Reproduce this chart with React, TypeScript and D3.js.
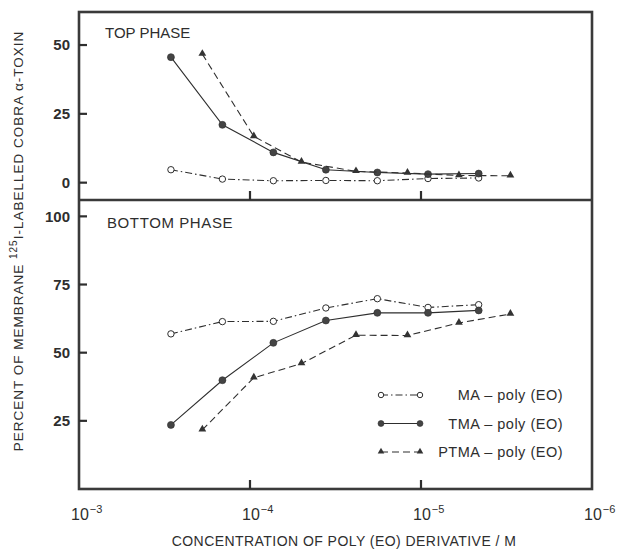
import React from 'react';
import * as d3 from 'd3';

// concentrations (M) – MA and TMA share the same dilution series
const circleConc = [2.9e-4, 1.45e-4, 7.3e-5, 3.6e-5, 1.8e-5, 9.1e-6, 4.6e-6];
const triangleConc = [1.9e-4, 9.5e-5, 5.0e-5, 2.4e-5, 1.2e-5, 6.0e-6, 3.0e-6];

// top phase (%)
const maTop = [4.7, 1.3, 0.7, 0.8, 0.7, 1.5, 1.7];
const tmaTop = [45.6, 21.0, 11.0, 4.7, 3.7, 3.1, 3.3];
const ptmaTop = [46.7, 16.8, 7.5, 4.1, 3.5, 2.6, 2.5];

// bottom phase (%)
const maBottom = [56.9, 61.4, 61.5, 66.4, 69.8, 66.6, 67.6];
const tmaBottom = [23.5, 39.9, 53.6, 61.8, 64.6, 64.6, 65.5];
const ptmaBottom = [21.7, 40.8, 46.0, 56.4, 56.3, 60.9, 64.2];

const xTicks = [1e-3, 1e-4, 1e-5, 1e-6];
const xTickExp = ['-3', '-4', '-5', '-6'];
const topTicks = [0, 25, 50];
const bottomTicks = [25, 50, 75, 100];

const legendLabels = ['MA \u2013 poly (EO)', 'TMA \u2013 poly (EO)', 'PTMA \u2013 poly (EO)'];

const W = 621;
const H = 554;
const INK = '#2e2e2e';
const FONT = '"Liberation Sans", Arial, sans-serif';

const LEFT = 79;
const RIGHT = 592;
const TOP = 12;
const MID = 200;
const BOTTOM = 489;

type Style = 'ma' | 'tma' | 'ptma';

const dashFor = (s: Style) => (s === 'ma' ? '7,3,1.5,3' : s === 'ptma' ? '7,4' : undefined);

const Marker = ({ s, x, y, k = 1 }: { s: Style; x: number; y: number; k?: number }) => {
  if (s === 'ma') return <circle cx={x} cy={y} r={3.2 * k} fill="#fff" stroke={INK} strokeWidth={1} />;
  if (s === 'tma') return <circle cx={x} cy={y} r={3.5 * k} fill="#444" stroke={INK} strokeWidth={0.6} />;
  const tri = d3.symbol().type(d3.symbolTriangle).size(26 * k * k);
  return <path d={tri() || ''} transform={`translate(${x},${y - 0.5})`} fill="#333" />;
};

export default function App() {
  const x = d3.scaleLog().domain([1e-3, 1e-6]).range([LEFT, RIGHT]);
  const yTop = d3.scaleLinear().domain([-6.3, 62]).range([MID, TOP]);
  const yBot = d3.scaleLinear().domain([0, 106]).range([BOTTOM, MID]);

  const series = (conc: number[], vals: number[], y: d3.ScaleLinear<number, number>, s: Style) => {
    const pts = conc.map((c, i) => [x(c), y(vals[i])] as [number, number]);
    const line = d3.line();
    return (
      <g key={s + y.domain()[0]}>
        <path d={line(pts) || ''} fill="none" stroke={INK} strokeWidth={1.1} strokeDasharray={dashFor(s)} />
        {pts.map((p, i) => (
          <Marker key={i} s={s} x={p[0]} y={p[1]} />
        ))}
      </g>
    );
  };

  const legendRows: Style[] = ['ma', 'tma', 'ptma'];
  const legendY = d3.scalePoint<Style>().domain(legendRows).range([395, 452]);

  return (
    <svg
      width={W}
      height={H}
      style={{ position: 'absolute', left: 0, top: 0, background: '#fff' }}
      fontFamily={FONT}
    >
      {/* frame */}
      <rect x={LEFT} y={TOP} width={RIGHT - LEFT} height={BOTTOM - TOP} fill="none" stroke="#3a3a3a" strokeWidth={2.6} />
      <line x1={LEFT} x2={RIGHT} y1={MID} y2={MID} stroke="#3a3a3a" strokeWidth={2.6} />

      {/* y ticks */}
      {topTicks.map((t) => (
        <g key={'tt' + t}>
          <line x1={LEFT} x2={LEFT + 8} y1={yTop(t)} y2={yTop(t)} stroke={INK} strokeWidth={2.2} />
          <text x={70} y={yTop(t)} dy="0.36em" textAnchor="end" fontSize={15} fontWeight="bold" fill={INK}>
            {t}
          </text>
        </g>
      ))}
      {bottomTicks.map((t) => (
        <g key={'bt' + t}>
          <line x1={LEFT} x2={LEFT + 8} y1={yBot(t)} y2={yBot(t)} stroke={INK} strokeWidth={2.2} />
          <text x={70} y={yBot(t)} dy="0.36em" textAnchor="end" fontSize={15} fontWeight="bold" fill={INK}>
            {t}
          </text>
        </g>
      ))}

      {/* x ticks */}
      {xTicks.slice(1, 3).map((t) => (
        <g key={'xt' + t}>
          <line x1={x(t)} x2={x(t)} y1={MID} y2={MID - 9} stroke={INK} strokeWidth={2.2} />
          <line x1={x(t)} x2={x(t)} y1={BOTTOM} y2={BOTTOM - 9} stroke={INK} strokeWidth={2.2} />
        </g>
      ))}
      {xTicks.map((t, i) => (
        <text key={'xl' + t} x={x(t) - 8} y={520} fontSize={16} fill={INK}>
          10
          <tspan fontSize={11} dy={-7} dx={1}>
            {'\u2212' + xTickExp[i].slice(1)}
          </tspan>
        </text>
      ))}

      {/* panel titles */}
      <text x={105} y={38} fontSize={15} fill={INK}>
        TOP PHASE
      </text>
      <text x={107} y={228} fontSize={15} fill={INK} letterSpacing={0.6}>
        BOTTOM PHASE
      </text>

      {/* axis titles */}
      <text x={344} y={546} textAnchor="middle" fontSize={14} fill={INK} letterSpacing={0.45}>
        CONCENTRATION OF POLY (EO) DERIVATIVE / M
      </text>
      <text
        transform="translate(23,241) rotate(-90)"
        textAnchor="middle"
        fontSize={13.5}
        fill={INK}
        letterSpacing={1}
      >
        PERCENT OF MEMBRANE{' '}
        <tspan fontSize={10} dy={-6}>
          125
        </tspan>
        <tspan dy={6}>I-LABELLED COBRA α-TOXIN</tspan>
      </text>

      {/* data */}
      {series(circleConc, maTop, yTop, 'ma')}
      {series(circleConc, tmaTop, yTop, 'tma')}
      {series(triangleConc, ptmaTop, yTop, 'ptma')}
      {series(circleConc, maBottom, yBot, 'ma')}
      {series(circleConc, tmaBottom, yBot, 'tma')}
      {series(triangleConc, ptmaBottom, yBot, 'ptma')}

      {/* legend */}
      {legendRows.map((s, i) => {
        const ly = legendY(s) || 0;
        return (
          <g key={'lg' + s}>
            <line x1={381} x2={420} y1={ly} y2={ly} stroke={INK} strokeWidth={1.1} strokeDasharray={dashFor(s)} />
            <Marker s={s} x={381} y={ly} k={0.85} />
            <Marker s={s} x={420} y={ly} k={0.85} />
            <text x={563} y={ly} dy="0.35em" textAnchor="end" fontSize={14.5} fill={INK} letterSpacing={0.5}>
              {legendLabels[i]}
            </text>
          </g>
        );
      })}
    </svg>
  );
}
